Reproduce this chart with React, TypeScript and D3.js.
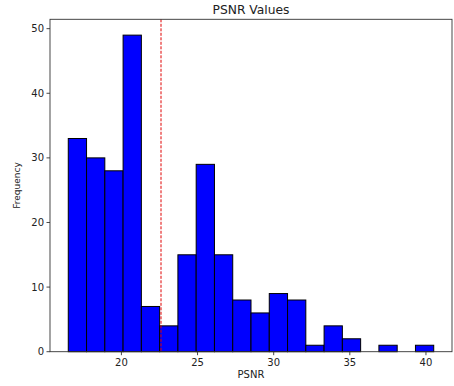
import React, { useEffect, useRef } from 'react';
import * as d3 from 'd3';

// histogram counts per bin (20 bins, width 1.2)
const binStart = 16.51;
const binWidth = 1.2;
const counts = [33, 30, 28, 49, 7, 4, 15, 29, 15, 8, 6, 9, 8, 1, 4, 2, 0, 1, 0, 1];
const meanValue = 22.6;
const xTicks = [20, 25, 30, 35, 40];
const yTicks = [0, 10, 20, 30, 40, 50];

const W = 454;
const H = 386;

const App: React.FC = () => {
  const svgRef = useRef<SVGSVGElement>(null);

  useEffect(() => {
    if (!svgRef.current) return;
    const svg = d3.select(svgRef.current);
    svg.selectAll('*').remove();

    const left = 50, right = 452, top = 19.3, bottom = 351.7;
    const x0 = binStart, x1 = binStart + binWidth * counts.length;
    const pad = (x1 - x0) * 0.05;
    const x = d3.scaleLinear().domain([x0 - pad, x1 + pad]).range([left, right]);
    const y = d3.scaleLinear().domain([0, d3.max(counts)! * 1.05]).range([bottom, top]);

    const font = 'DejaVu Sans, sans-serif';

    // bars
    svg.append('g')
      .selectAll('rect')
      .data(counts)
      .join('rect')
      .attr('x', (_, i) => x(binStart + i * binWidth))
      .attr('width', x(binStart + binWidth) - x(binStart))
      .attr('y', d => y(d))
      .attr('height', d => y(0) - y(d))
      .attr('fill', '#0000ff')
      .attr('stroke', '#000')
      .attr('stroke-width', 1);

    // mean line
    svg.append('line')
      .attr('x1', x(meanValue)).attr('x2', x(meanValue))
      .attr('y1', top).attr('y2', bottom)
      .attr('stroke', '#e00000')
      .attr('stroke-width', 1)
      .attr('stroke-dasharray', '3,1.5');

    // frame
    svg.append('rect')
      .attr('x', left).attr('y', top)
      .attr('width', right - left).attr('height', bottom - top)
      .attr('fill', 'none')
      .attr('stroke', '#333')
      .attr('stroke-width', 0.9);

    // x ticks
    const xt = svg.append('g');
    xTicks.forEach(t => {
      xt.append('line')
        .attr('x1', x(t)).attr('x2', x(t))
        .attr('y1', bottom).attr('y2', bottom + 3.5)
        .attr('stroke', '#333').attr('stroke-width', 0.9);
      xt.append('text')
        .attr('x', x(t)).attr('y', bottom + 14)
        .attr('text-anchor', 'middle')
        .attr('font-family', font).attr('font-size', 10)
        .attr('fill', '#222')
        .text(t);
    });

    // y ticks
    const yt = svg.append('g');
    yTicks.forEach(t => {
      yt.append('line')
        .attr('x1', left - 3.5).attr('x2', left)
        .attr('y1', y(t)).attr('y2', y(t))
        .attr('stroke', '#333').attr('stroke-width', 0.9);
      yt.append('text')
        .attr('x', left - 6).attr('y', y(t) + 3.5)
        .attr('text-anchor', 'end')
        .attr('font-family', font).attr('font-size', 10)
        .attr('fill', '#222')
        .text(t);
    });

    // labels
    svg.append('text')
      .attr('x', (left + right) / 2).attr('y', 14)
      .attr('text-anchor', 'middle')
      .attr('font-family', font).attr('font-size', 12.3)
      .attr('fill', '#222')
      .text('PSNR Values');

    svg.append('text')
      .attr('x', (left + right) / 2).attr('y', 378)
      .attr('text-anchor', 'middle')
      .attr('font-family', font).attr('font-size', 10)
      .attr('fill', '#222')
      .text('PSNR');

    svg.append('text')
      .attr('transform', `translate(20,${(top + bottom) / 2}) rotate(-90)`)
      .attr('text-anchor', 'middle')
      .attr('font-family', font).attr('font-size', 9)
      .attr('fill', '#222')
      .text('Frequency');
  }, []);

  return (
    <svg ref={svgRef} width={W} height={H}
      style={{ position: 'absolute', left: 0, top: 0, background: '#fff' }} />
  );
};

export default App;
